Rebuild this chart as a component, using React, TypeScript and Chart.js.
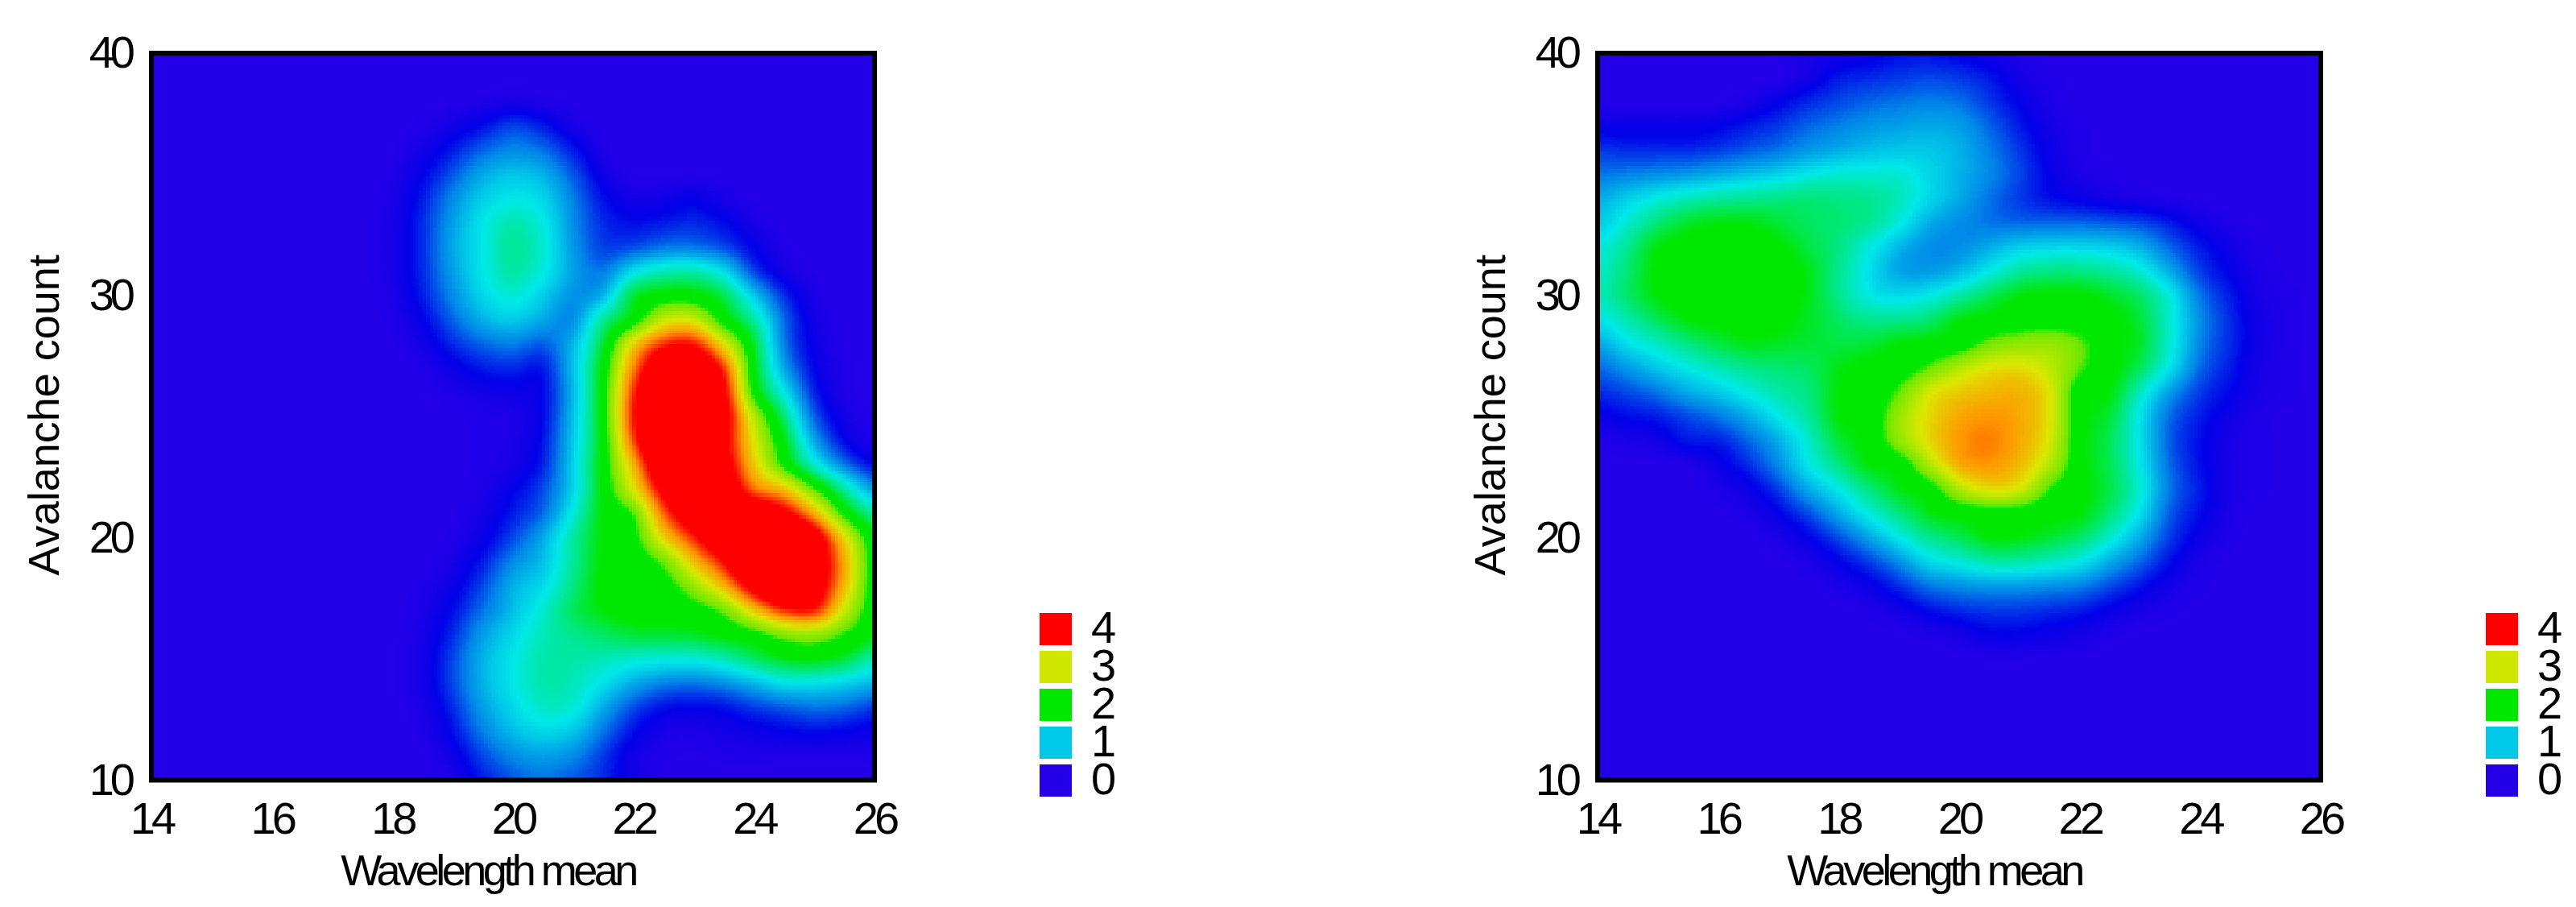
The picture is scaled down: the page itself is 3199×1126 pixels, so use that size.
import { useEffect, useRef } from "react"
import Chart from "chart.js/auto"

const wavelengths = [14, 14.5, 15, 15.5, 16, 16.5, 17, 17.5, 18, 18.5, 19, 19.5, 20, 20.5, 21, 21.5, 22, 22.5, 23, 23.5, 24, 24.5, 25, 25.5, 26]
const counts = [40, 39, 38, 37, 36, 35, 34, 33, 32, 31, 30, 29, 28, 27, 26, 25, 24, 23, 22, 21, 20, 19, 18, 17, 16, 15, 14, 13, 12, 11, 10]

// density, one row per count, top row first
const leftDensity = [
  [0, 0, 0, 0, 0, 0, 0, 0, 0, 0, 0, 0, 0, 0, 0, 0, 0, 0, 0, 0, 0, 0, 0, 0, 0],
  [0, 0, 0, 0, 0, 0, 0, 0, 0, 0, 0, 0, 0, 0, 0, 0, 0, 0, 0, 0, 0, 0, 0, 0, 0],
  [0, 0, 0, 0, 0, 0, 0, 0, 0, 0, 0, 0.03, 0.08, 0.03, 0, 0, 0, 0, 0, 0, 0, 0, 0, 0, 0],
  [0, 0, 0, 0, 0, 0, 0, 0, 0, 0.02, 0.1, 0.25, 0.45, 0.3, 0.08, 0, 0, 0, 0, 0, 0, 0, 0, 0, 0],
  [0, 0, 0, 0, 0, 0, 0, 0, 0, 0.1, 0.3, 0.55, 0.7, 0.6, 0.3, 0.03, 0, 0, 0, 0, 0, 0, 0, 0, 0],
  [0, 0, 0, 0, 0, 0, 0, 0, 0.03, 0.2, 0.5, 0.85, 1, 0.9, 0.5, 0.12, 0, 0, 0, 0, 0, 0, 0, 0, 0],
  [0, 0, 0, 0, 0, 0, 0, 0, 0.05, 0.3, 0.7, 1.05, 1.2, 1.1, 0.65, 0.25, 0.1, 0.12, 0.2, 0.08, 0, 0, 0, 0, 0],
  [0, 0, 0, 0, 0, 0, 0, 0, 0.08, 0.35, 0.8, 1.2, 1.45, 1.25, 0.7, 0.35, 0.25, 0.3, 0.35, 0.25, 0.08, 0, 0, 0, 0],
  [0, 0, 0, 0, 0, 0, 0, 0, 0.08, 0.35, 0.85, 1.2, 1.55, 1.3, 0.75, 0.4, 0.45, 0.6, 0.6, 0.45, 0.2, 0.03, 0, 0, 0],
  [0, 0, 0, 0, 0, 0, 0, 0, 0.08, 0.35, 0.8, 1.2, 1.5, 1.25, 0.8, 0.6, 1.15, 1.4, 1.45, 1.15, 0.4, 0.1, 0, 0, 0],
  [0, 0, 0, 0, 0, 0, 0, 0, 0.05, 0.3, 0.7, 1.1, 1.3, 1.05, 0.7, 0.85, 1.9, 2.1, 2.1, 1.8, 1, 0.35, 0.05, 0, 0],
  [0, 0, 0, 0, 0, 0, 0, 0, 0.03, 0.2, 0.55, 0.9, 1.05, 0.85, 0.65, 1.55, 2.05, 2.9, 2.95, 2.1, 1.5, 0.55, 0.1, 0, 0],
  [0, 0, 0, 0, 0, 0, 0, 0, 0, 0.1, 0.35, 0.55, 0.65, 0.5, 0.9, 1.85, 3.2, 3.9, 4, 3.05, 1.9, 0.6, 0.15, 0, 0],
  [0, 0, 0, 0, 0, 0, 0, 0, 0, 0.03, 0.15, 0.3, 0.35, 0.25, 0.95, 2.05, 3.6, 4.6, 4.7, 3.9, 2, 0.8, 0.2, 0.02, 0],
  [0, 0, 0, 0, 0, 0, 0, 0, 0, 0, 0.05, 0.1, 0.15, 0.2, 0.9, 2.1, 3.9, 4.8, 5, 4.2, 2.15, 1.2, 0.3, 0.03, 0],
  [0, 0, 0, 0, 0, 0, 0, 0, 0, 0, 0, 0.02, 0.05, 0.2, 0.95, 2.1, 4, 5, 5, 4.3, 2.8, 1.65, 0.5, 0.1, 0],
  [0, 0, 0, 0, 0, 0, 0, 0, 0, 0, 0, 0.02, 0.05, 0.25, 1, 2.05, 3.8, 5, 5, 4.2, 3, 2, 0.8, 0.2, 0.03],
  [0, 0, 0, 0, 0, 0, 0, 0, 0, 0, 0, 0.02, 0.08, 0.3, 1.05, 2.1, 3.3, 4.8, 5, 4.3, 3.2, 2.2, 1.3, 0.6, 0.2],
  [0, 0, 0, 0, 0, 0, 0, 0, 0, 0, 0, 0.05, 0.2, 0.45, 1.05, 2.05, 3, 4.2, 5, 4.6, 3.6, 3.3, 2.4, 1.5, 0.75],
  [0, 0, 0, 0, 0, 0, 0, 0, 0, 0, 0, 0.1, 0.3, 0.55, 1.25, 2.05, 2.3, 3.7, 4.5, 5, 4.7, 4.2, 3.4, 2.2, 1.5],
  [0, 0, 0, 0, 0, 0, 0, 0, 0, 0, 0.03, 0.15, 0.45, 0.85, 1.5, 2, 2.15, 3.15, 3.9, 4.6, 5, 5, 4.4, 3.1, 2],
  [0, 0, 0, 0, 0, 0, 0, 0, 0, 0, 0.08, 0.3, 0.7, 0.95, 1.5, 2.05, 2.1, 2.4, 3.25, 4, 5, 5, 4.5, 3.4, 2.05],
  [0, 0, 0, 0, 0, 0, 0, 0, 0, 0.02, 0.15, 0.45, 0.9, 1.1, 1.6, 2.05, 2.1, 2.15, 2.6, 3.3, 4.3, 4.9, 4.4, 3.3, 2.05],
  [0, 0, 0, 0, 0, 0, 0, 0, 0, 0.05, 0.25, 0.6, 0.95, 1.3, 1.75, 2, 2.1, 2.15, 2.15, 2.4, 3.2, 3.9, 4, 2.9, 2.05],
  [0, 0, 0, 0, 0, 0, 0, 0, 0, 0.08, 0.35, 0.8, 1.1, 1.4, 1.55, 1.7, 1.85, 1.85, 1.9, 2.05, 2.15, 2.5, 2.6, 2.3, 2],
  [0, 0, 0, 0, 0, 0, 0, 0, 0, 0.1, 0.45, 0.9, 1.2, 1.45, 1.45, 1.4, 1.3, 1.25, 1.25, 1.4, 1.7, 1.95, 2, 1.85, 1.4],
  [0, 0, 0, 0, 0, 0, 0, 0, 0, 0.1, 0.45, 0.9, 1.2, 1.45, 1.4, 1.15, 0.85, 0.65, 0.6, 0.7, 0.9, 1.15, 1.15, 1.05, 0.9],
  [0, 0, 0, 0, 0, 0, 0, 0, 0, 0.05, 0.35, 0.8, 1.1, 1.35, 1.3, 0.85, 0.45, 0.25, 0.2, 0.25, 0.4, 0.5, 0.6, 0.55, 0.4],
  [0, 0, 0, 0, 0, 0, 0, 0, 0, 0.03, 0.25, 0.65, 0.95, 1.1, 1, 0.6, 0.25, 0.08, 0.05, 0.1, 0.15, 0.2, 0.25, 0.2, 0.15],
  [0, 0, 0, 0, 0, 0, 0, 0, 0, 0, 0.12, 0.45, 0.7, 0.8, 0.7, 0.4, 0.1, 0.02, 0, 0.02, 0.03, 0.03, 0.03, 0.03, 0.03],
  [0, 0, 0, 0, 0, 0, 0, 0, 0, 0, 0.05, 0.3, 0.5, 0.6, 0.5, 0.35, 0.12, 0, 0, 0, 0, 0, 0, 0, 0],
]

// same for the right panel
const rightDensity = [
  [0, 0, 0, 0, 0, 0, 0.02, 0.05, 0.1, 0.15, 0.25, 0.25, 0.2, 0.1, 0.03, 0, 0, 0, 0, 0, 0, 0, 0, 0, 0],
  [0, 0, 0, 0, 0, 0, 0, 0.1, 0.3, 0.35, 0.4, 0.45, 0.4, 0.3, 0.1, 0.03, 0, 0, 0, 0, 0, 0, 0, 0, 0],
  [0, 0, 0, 0, 0, 0.05, 0.2, 0.35, 0.45, 0.55, 0.6, 0.65, 0.6, 0.4, 0.2, 0.05, 0, 0, 0, 0, 0, 0, 0, 0, 0],
  [0.15, 0.15, 0.15, 0.15, 0.2, 0.3, 0.4, 0.55, 0.65, 0.75, 0.8, 0.85, 0.8, 0.55, 0.3, 0.1, 0.02, 0, 0, 0, 0, 0, 0, 0, 0],
  [0.4, 0.35, 0.35, 0.35, 0.4, 0.5, 0.6, 0.75, 0.85, 0.95, 1, 1, 0.9, 0.65, 0.4, 0.15, 0.03, 0, 0, 0, 0, 0, 0, 0, 0],
  [0.6, 0.65, 0.7, 0.75, 0.85, 0.95, 1.05, 1.2, 1.3, 1.3, 1.3, 1.1, 0.9, 0.7, 0.45, 0.2, 0.05, 0.02, 0, 0, 0, 0, 0, 0, 0],
  [0.85, 1.05, 1.25, 1.4, 1.5, 1.55, 1.6, 1.65, 1.6, 1.55, 1.4, 1.1, 0.85, 0.6, 0.4, 0.25, 0.18, 0.1, 0.05, 0.02, 0, 0, 0, 0, 0],
  [1, 1.3, 1.65, 1.9, 1.98, 1.98, 1.85, 1.7, 1.65, 1.55, 1.25, 0.85, 0.7, 0.6, 0.55, 0.55, 0.55, 0.5, 0.45, 0.3, 0.12, 0.03, 0, 0, 0],
  [1.2, 1.55, 2, 2.05, 2.1, 2.1, 2.05, 1.8, 1.6, 1.25, 0.9, 0.7, 0.7, 0.85, 1.05, 1.1, 1.1, 1.05, 0.9, 0.55, 0.3, 0.12, 0.03, 0, 0],
  [1.3, 1.65, 2.05, 2.1, 2.1, 2.1, 2.1, 1.95, 1.55, 1.15, 0.8, 0.75, 0.9, 1.2, 1.5, 1.6, 1.6, 1.5, 1.3, 0.85, 0.4, 0.2, 0.05, 0, 0],
  [1.35, 1.7, 2, 2.1, 2.1, 2.1, 2.1, 1.95, 1.55, 1.2, 1.1, 1.2, 1.45, 1.75, 2, 2.05, 2.05, 1.9, 1.7, 1.25, 0.6, 0.3, 0.08, 0.02, 0],
  [1.15, 1.45, 1.75, 2, 2.05, 2.1, 2.05, 1.9, 1.7, 1.55, 1.55, 1.65, 2, 2.05, 2.1, 2.15, 2.1, 2.05, 1.85, 1.3, 0.7, 0.35, 0.1, 0.02, 0],
  [0.8, 1.15, 1.35, 1.6, 1.8, 1.95, 1.9, 1.85, 1.8, 1.85, 2, 2.05, 2.1, 2.45, 2.6, 2.65, 2.45, 2.05, 1.9, 1.3, 0.65, 0.35, 0.1, 0.02, 0],
  [0.55, 0.75, 1, 1.2, 1.4, 1.55, 1.65, 1.7, 1.95, 2.05, 2.1, 2.4, 2.8, 3.05, 3.1, 2.85, 2.4, 2.05, 1.75, 1.15, 0.55, 0.3, 0.08, 0.02, 0],
  [0.35, 0.45, 0.6, 0.85, 1, 1.25, 1.45, 1.6, 2, 2.05, 2.4, 3, 3.2, 3.3, 3.35, 3.05, 2.05, 2, 1.35, 0.75, 0.4, 0.22, 0.08, 0.02, 0],
  [0.15, 0.25, 0.3, 0.45, 0.6, 0.85, 1.2, 1.5, 2, 2.05, 2.65, 3.1, 3.4, 3.5, 3.4, 3.05, 2.05, 1.85, 1.15, 0.55, 0.3, 0.12, 0.03, 0, 0],
  [0.03, 0.05, 0.1, 0.3, 0.3, 0.55, 0.85, 1.3, 1.85, 2.05, 2.6, 3.1, 3.5, 3.6, 3.4, 3, 2.05, 1.75, 1.15, 0.5, 0.25, 0.08, 0.02, 0, 0],
  [0, 0, 0, 0, 0.15, 0.35, 0.7, 1.2, 1.6, 2, 2.05, 2.75, 3.4, 3.5, 3.3, 2.8, 2.05, 1.75, 1.2, 0.55, 0.25, 0.08, 0.02, 0, 0],
  [0, 0, 0, 0, 0.05, 0.15, 0.4, 0.85, 1.2, 1.6, 1.95, 2.1, 2.75, 3.1, 3, 2.3, 2.05, 1.8, 1.3, 0.6, 0.3, 0.08, 0.02, 0, 0],
  [0, 0, 0, 0, 0, 0.05, 0.2, 0.45, 0.85, 1.25, 1.6, 1.95, 2.05, 2.1, 2.1, 2.05, 2, 1.65, 1.15, 0.5, 0.25, 0.06, 0, 0, 0],
  [0, 0, 0, 0, 0, 0, 0.05, 0.2, 0.45, 0.8, 1.2, 1.55, 1.75, 2, 1.98, 1.85, 1.7, 1.3, 0.85, 0.4, 0.15, 0.03, 0, 0, 0],
  [0, 0, 0, 0, 0, 0, 0, 0.05, 0.2, 0.4, 0.7, 1.1, 1.25, 1.45, 1.45, 1.35, 1.2, 0.85, 0.55, 0.25, 0.06, 0, 0, 0, 0],
  [0, 0, 0, 0, 0, 0, 0, 0, 0.05, 0.15, 0.35, 0.6, 0.7, 0.75, 0.75, 0.7, 0.65, 0.45, 0.28, 0.1, 0.02, 0, 0, 0, 0],
  [0, 0, 0, 0, 0, 0, 0, 0, 0, 0.03, 0.1, 0.25, 0.35, 0.4, 0.4, 0.35, 0.3, 0.18, 0.08, 0.02, 0, 0, 0, 0, 0],
  [0, 0, 0, 0, 0, 0, 0, 0, 0, 0, 0, 0.03, 0.08, 0.2, 0.2, 0.15, 0.1, 0.03, 0, 0, 0, 0, 0, 0, 0],
  [0, 0, 0, 0, 0, 0, 0, 0, 0, 0, 0, 0, 0, 0, 0, 0, 0, 0, 0, 0, 0, 0, 0, 0, 0],
  [0, 0, 0, 0, 0, 0, 0, 0, 0, 0, 0, 0, 0, 0, 0, 0, 0, 0, 0, 0, 0, 0, 0, 0, 0],
  [0, 0, 0, 0, 0, 0, 0, 0, 0, 0, 0, 0, 0, 0, 0, 0, 0, 0, 0, 0, 0, 0, 0, 0, 0],
  [0, 0, 0, 0, 0, 0, 0, 0, 0, 0, 0, 0, 0, 0, 0, 0, 0, 0, 0, 0, 0, 0, 0, 0, 0],
  [0, 0, 0, 0, 0, 0, 0, 0, 0, 0, 0, 0, 0, 0, 0, 0, 0, 0, 0, 0, 0, 0, 0, 0, 0],
  [0, 0, 0, 0, 0, 0, 0, 0, 0, 0, 0, 0, 0, 0, 0, 0, 0, 0, 0, 0, 0, 0, 0, 0, 0],
]

const xTicks = [14, 16, 18, 20, 22, 24, 26]
const yTicks = [10, 20, 30, 40]
const legendLabels = ["4", "3", "2", "1", "0"]
const legendColors = ["#ff0000", "#d0e800", "#00e800", "#00c8e8", "#2400e8"]

// value, r, g, b
const ramp = [
  [0, 36, 0, 232],
  [0.22, 0, 0, 232],
  [0.65, 0, 130, 232],
  [1, 0, 200, 232],
  [1.2, 0, 232, 232],
  [1.6, 0, 232, 130],
  [2, 0, 232, 0],
  [2.3, 0, 232, 0],
  [2.42, 110, 232, 0],
  [3, 220, 232, 0],
  [3.5, 255, 150, 0],
  [4, 255, 0, 0],
]

const FONT = "'Liberation Sans', Arial, sans-serif"
const GRAY_PER_UNIT = 40
const BLOCKS = 200

function rampColor(v: number) {
  if (v >= 4) return [255, 0, 0]
  for (let i = 1; i < ramp.length; i++) {
    if (v <= ramp[i][0]) {
      const a = ramp[i - 1]
      const b = ramp[i]
      const t = (v - a[0]) / (b[0] - a[0])
      return [a[1] + (b[1] - a[1]) * t, a[2] + (b[2] - a[2]) * t, a[3] + (b[3] - a[3]) * t]
    }
  }
  return [36, 0, 232]
}

// The density cells go into a tiny grey image, the browser scales that up, and the
// scaled grey levels are coloured afterwards so the ramp stays clean between cells.
function densityImage(points: { v: number }[]) {
  const cols = wavelengths.length
  const rows = counts.length
  const src = document.createElement("canvas")
  src.width = cols
  src.height = rows
  const sctx = src.getContext("2d")!
  const grey = sctx.createImageData(cols, rows)
  points.forEach((p, i) => {
    const g = p.v * GRAY_PER_UNIT
    grey.data[i * 4] = g
    grey.data[i * 4 + 1] = g
    grey.data[i * 4 + 2] = g
    grey.data[i * 4 + 3] = 255
  })
  sctx.putImageData(grey, 0, 0)

  const out = document.createElement("canvas")
  out.width = BLOCKS
  out.height = BLOCKS
  const octx = out.getContext("2d", { willReadFrequently: true })!
  octx.imageSmoothingEnabled = true
  octx.imageSmoothingQuality = "high"
  octx.drawImage(src, 0.5, 0.5, cols - 1, rows - 1, 0, 0, BLOCKS, BLOCKS)
  const img = octx.getImageData(0, 0, BLOCKS, BLOCKS)
  for (let i = 0; i < img.data.length; i += 4) {
    const c = rampColor(img.data[i] / GRAY_PER_UNIT)
    img.data[i] = c[0]
    img.data[i + 1] = c[1]
    img.data[i + 2] = c[2]
    img.data[i + 3] = 255
  }
  octx.putImageData(img, 0, 0)
  return out
}

const densityPlugin = {
  id: "density",
  beforeDatasetsDraw(chart: any) {
    const { ctx, scales } = chart
    const x0 = scales.x.getPixelForValue(wavelengths[0])
    const x1 = scales.x.getPixelForValue(wavelengths[wavelengths.length - 1])
    const y0 = scales.y.getPixelForValue(counts[0])
    const y1 = scales.y.getPixelForValue(counts[counts.length - 1])
    ctx.save()
    ctx.imageSmoothingEnabled = false
    ctx.drawImage(densityImage(chart.data.datasets[0].data), x0, y0, x1 - x0, y1 - y0)
    ctx.restore()
  },
}

const framePlugin = {
  id: "frame",
  // tick labels are set tight in the reference
  beforeDraw(chart: any) {
    chart.ctx.letterSpacing = "-5px"
  },
  afterDraw(chart: any) {
    const { ctx, chartArea: a } = chart
    ctx.save()
    ctx.strokeStyle = "#000"
    ctx.lineWidth = 6
    ctx.strokeRect(a.left, a.top, a.right - a.left, a.bottom - a.top)

    // the legend sits far off to the lower right of the plot
    ctx.font = `56px ${FONT}`
    ctx.textBaseline = "middle"
    ctx.textAlign = "left"
    ctx.letterSpacing = "0px"
    legendLabels.forEach((label, i) => {
      const top = a.bottom - 207.5 + i * 47
      ctx.fillStyle = legendColors[i]
      ctx.fillRect(a.right + 205, top, 40, 40)
      ctx.fillStyle = "#000"
      ctx.fillText(label, a.right + 269, top + 22)
    })

    ctx.font = `54px ${FONT}`
    ctx.textAlign = "center"
    ctx.textBaseline = "alphabetic"
    ctx.letterSpacing = "-4.5px"
    ctx.fillText("Wavelength mean", a.left + 418, a.bottom + 130)
    ctx.letterSpacing = "0px"
    ctx.translate(73, (a.top + a.bottom) / 2 - 2)
    ctx.rotate(-Math.PI / 2)
    ctx.fillText("Avalanche count", 0, 0)
    ctx.restore()
  },
}

function DensityPanel({ density, left }: { density: number[][]; left: number }) {
  const canvasRef = useRef<HTMLCanvasElement>(null)

  useEffect(() => {
    if (!canvasRef.current) return
    const points = counts.flatMap((y, r) => wavelengths.map((x, c) => ({ x, y, v: density[r][c] })))
    const tickFont = { family: FONT, size: 56 }

    const chart = new Chart(canvasRef.current, {
      type: "scatter",
      data: { datasets: [{ data: points, pointRadius: 0, label: "density" }] },
      plugins: [densityPlugin, framePlugin],
      options: {
        animation: false,
        responsive: false,
        devicePixelRatio: 1,
        events: [],
        layout: { padding: { left: 0, top: 66, right: 314, bottom: 57.5 } },
        scales: {
          x: {
            type: "linear",
            min: 14,
            max: 26,
            afterFit: (s: any) => { s.height = 100 },
            afterBuildTicks: (s: any) => { s.ticks = xTicks.map((value) => ({ value })) },
            grid: { display: false, drawTicks: false },
            border: { display: false },
            ticks: { font: tickFont, color: "#000", padding: 17, maxRotation: 0, autoSkip: false },
          },
          y: {
            type: "linear",
            min: 10,
            max: 40,
            afterFit: (s: any) => { s.width = 188 },
            afterBuildTicks: (s: any) => { s.ticks = yTicks.map((value) => ({ value })) },
            grid: { display: false, drawTicks: false },
            border: { display: false },
            ticks: { font: tickFont, color: "#000", padding: 25, labelOffset: 3, autoSkip: false },
          },
        },
        plugins: {
          tooltip: { enabled: false },
          legend: { display: false },
        },
      },
    } as any)

    return () => chart.destroy()
  }, [density])

  return <canvas ref={canvasRef} width={1400} height={1126} style={{ position: "absolute", left, top: 0, display: "block" }} />
}

export default function App() {
  return (
    <div style={{ position: "absolute", left: 0, top: 0, width: 3199, height: 1126, background: "#fff", overflow: "hidden" }}>
      <DensityPanel density={leftDensity} left={0} />
      <DensityPanel density={rightDensity} left={1796} />
    </div>
  )
}
